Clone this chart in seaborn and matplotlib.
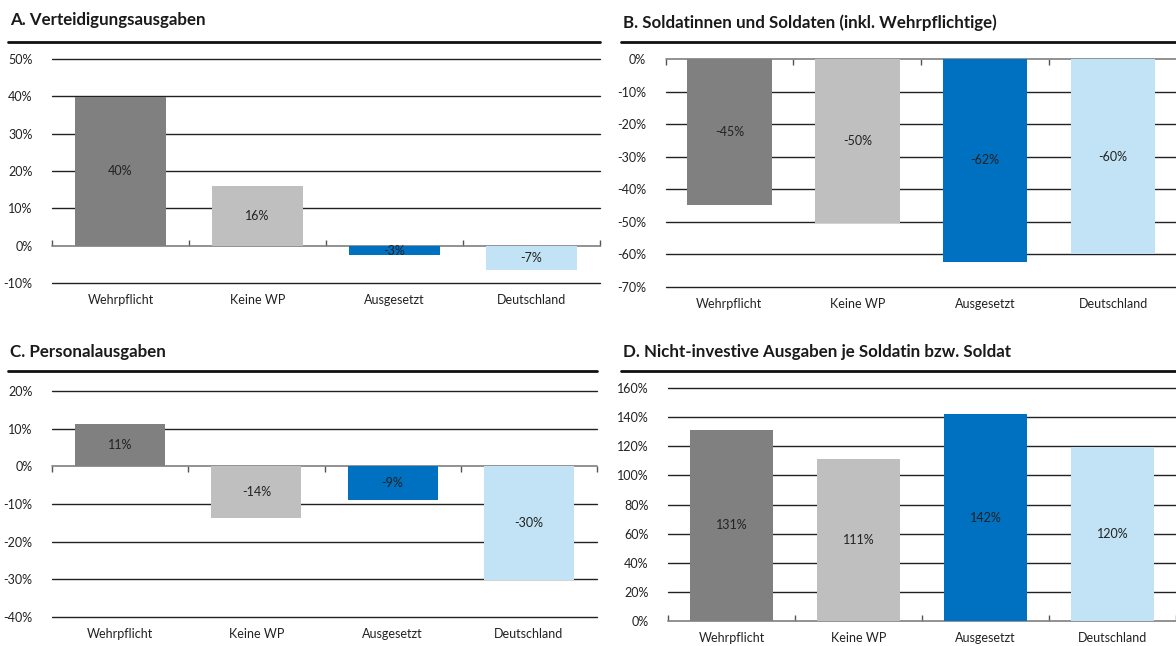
import matplotlib
matplotlib.use("Agg")
import matplotlib.pyplot as plt
from matplotlib.lines import Line2D
import seaborn as sns
import pandas as pd

categories = ["Wehrpflicht", "Keine WP", "Ausgesetzt", "Deutschland"]
colors = ["#808080", "#bfbfbf", "#0070c0", "#c2e3f5"]

titles = ["A. Verteidigungsausgaben",
          "B. Soldatinnen und Soldaten (inkl. Wehrpflichtige)",
          "C. Personalausgaben",
          "D. Nicht-investive Ausgaben je Soldatin bzw. Soldat"]

values_a = [39.8, 15.9, -2.6, -6.6]
labels_a = ["40%", "16%", "-3%", "-7%"]
values_b = [-44.7, -50.2, -62.3, -60.0]
labels_b = ["-45%", "-50%", "-62%", "-60%"]
values_c = [11.2, -13.8, -8.9, -30.3]
labels_c = ["11%", "-14%", "-9%", "-30%"]
values_d = [131.4, 111.2, 142.1, 119.6]
labels_d = ["131%", "111%", "142%", "120%"]

yticks_a = [-10, 0, 10, 20, 30, 40, 50]
yticks_b = [-70, -60, -50, -40, -30, -20, -10, 0]
yticks_c = [-40, -30, -20, -10, 0, 10, 20]
yticks_d = [0, 20, 40, 60, 80, 100, 120, 140, 160]

sns.set_theme(style="white")
plt.rcParams["font.family"] = ["Lato", "DejaVu Sans"]

W, H = 1176, 646
fig = plt.figure(figsize=(W / 100, H / 100), dpi=100)
fig.patch.set_facecolor("white")

def fx(px):
    return px / W

def fy(py):
    return 1 - py / H

# axes boxes in pixels: left, right, top, bottom
boxes = [
    (52, 600, 59, 283),
    (665.5, 1177, 59, 287),
    (52, 597, 391, 617),
    (668, 1176, 388, 621),
]
title_pos = [(10, 20), (623, 23), (10, 352), (623, 352)]
underline = [(8, 600, 42), (621, 1176, 42), (8, 597, 371), (621, 1176, 371)]

panels = [
    (values_a, labels_a, yticks_a),
    (values_b, labels_b, yticks_b),
    (values_c, labels_c, yticks_c),
    (values_d, labels_d, yticks_d),
]

for i, (vals, labs, yt) in enumerate(panels):
    l, r, t, b = boxes[i]
    ax = fig.add_axes([fx(l), fy(b), fx(r - l), fy(t) - fy(b)])
    df = pd.DataFrame({"cat": categories, "val": vals})
    sns.barplot(data=df, x="cat", y="val", hue="cat", palette=colors,
                hue_order=categories, order=categories, legend=False,
                width=0.66, saturation=1, ax=ax, zorder=3, linewidth=0)
    ax.set_xlim(-0.5, 3.5)
    ax.set_ylim(yt[0], yt[-1])
    for y in yt:
        if y == 0:
            continue
        ax.axhline(y, color="#222222", lw=1.0, zorder=1, clip_on=False)
    ax.axhline(0, color="#7f7f7f", lw=1.2, zorder=2, clip_on=False)
    ax.set_yticks(yt)
    ax.set_yticklabels([f"{y}%" for y in yt])
    for s in ax.spines.values():
        s.set_visible(False)
    ax.tick_params(axis="y", length=0, pad=14, labelsize=9, labelcolor="#222222")
    ax.tick_params(axis="x", length=0, pad=8, labelsize=9, labelcolor="#222222")
    ax.set_xlabel("")
    ax.set_ylabel("")
    for cont, lab in zip(ax.containers, labs):
        ax.bar_label(cont, labels=[lab], label_type="center", fontsize=9,
                     color="#222222")
    # zero line tick marks at category boundaries
    loc = (0 - yt[0]) / (yt[-1] - yt[0])
    sec = ax.secondary_xaxis(loc)
    sec.set_xticks([-0.5, 0.5, 1.5, 2.5, 3.5])
    sec.set_xticklabels([])
    sec.tick_params(axis="x", direction="in", length=4, width=1.0,
                    color="#555555")
    for s in sec.spines.values():
        s.set_visible(False)

    tx, ty = title_pos[i]
    fig.text(fx(tx), fy(ty), titles[i], fontsize=12.2, fontweight="bold",
             color="#1a1a1a", ha="left", va="center")
    x0, x1, yl = underline[i]
    fig.add_artist(Line2D([fx(x0), fx(x1)], [fy(yl), fy(yl)],
                          transform=fig.transFigure, color="#111111", lw=2))

fig.savefig("out.png", dpi=100, facecolor="white")
